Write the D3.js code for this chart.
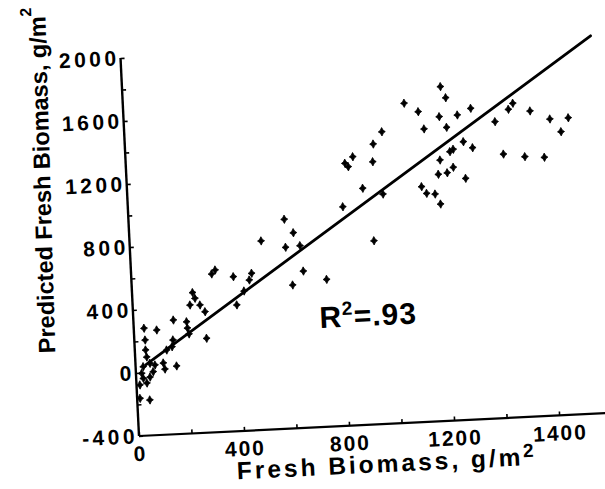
<!DOCTYPE html>
<html>
<head>
<meta charset="utf-8">
<script src="https://cdn.jsdelivr.net/npm/d3@7"></script>
<style>
  body { margin: 0; background: #fff; }
  svg { display: block; }
  text { font-family: "Liberation Sans", Arial, sans-serif; font-weight: bold; fill: #000; }
</style>
</head>
<body>
<svg id="chart" width="605" height="489"></svg>
<script>
// values
var freshBiomass = [1210,1228,1069,1121,1200,1269,1321,1140,1226,979,
    944,864,833,845,939,896,972,929,
    1411,1464,1482,1546,1620,1690,1660,1437,1518,1592,
    1287,1321,1234,1247,1195,1186,1220,1244,1289,1120,
    1138,1170,1189,817,
    592,624,592,647,500,655,612,742,
    320,306,388,458,448,426,396,
    230,238,256,274,218,275,
    152,202,204,209,39,87,147,142,121,41,41,44,
    106,111,156,55,74,22,27,13,11,48,66,29,40,53];
var predictedBiomass = [1720,1648,1626,1568,1530,1535,1573,1457,1460,1452,
    1377,1303,1264,1241,1265,1100,1057,764,
    1481,1555,1592,1538,1481,1483,1397,1273,1250,1240,
    1364,1323,1305,1319,1255,1165,1172,1205,1131,1092,
    1048,1041,976,989,
    928,840,750,756,798,594,509,534,
    628,604,580,596,554,486,400,
    492,455,411,367,414,198,
    324,309,269,231,281,266,198,155,136,206,143,98,
    55,16,32,57,45,-4,-36,-77,-162,-175,3,38,-67,-30];
var regressionX = [40, 1790];
var regressionY = [50, 1995];

var xTicks = [0,200,400,600,800,1000,1200,1400,1600];
var xTickLabels = {0: "0", 400: "400", 800: "800", 1200: "1200", 1600: "1400"};
var yTicks = [-400,-200,0,200,400,600,800,1000,1200,1400,1600,1800,2000];
var yTickLabels = {"-400": "-400", 0: "0", 400: "400", 800: "800", 1200: "1200", 1600: "1600", 2000: "2000"};

var ox = 139, oy = 436, tilt = -2.8;

var svg = d3.select("#chart");
var x = d3.scaleLinear().domain([0, 1600]).range([ox, 559.6]);
var y = d3.scaleLinear().domain([-400, 2000]).range([oy, 57.6]);

// the scan is slightly rotated, so the whole plot is too
var g = svg.append("g").attr("transform", "rotate(" + tilt + "," + ox + "," + oy + ")");

var xAxis = g.append("g")
    .attr("transform", "translate(0," + oy + ")")
    .call(d3.axisBottom(x).tickValues(xTicks).tickSize(-4).tickPadding(10)
        .tickFormat(function (d) { return xTickLabels[d] || ""; }));
xAxis.select(".domain").remove();
xAxis.selectAll("line").attr("stroke", "#000").attr("stroke-width", 1.6);
xAxis.selectAll("text").attr("font-family", null).attr("font-size", null)
    .style("font-size", "21px").style("letter-spacing", "2px");

var yAxis = g.append("g")
    .attr("transform", "translate(" + ox + ",0)")
    .call(d3.axisLeft(y).tickValues(yTicks).tickSize(-4).tickPadding(1)
        .tickFormat(function (d) { return yTickLabels[d] || ""; }));
yAxis.select(".domain").remove();
yAxis.selectAll("line").attr("stroke", "#000").attr("stroke-width", 1.6);
yAxis.selectAll("text").style("font-size", "21px").style("letter-spacing", "3.5px");

g.append("line")
    .attr("x1", x(0)).attr("y1", y(-400))
    .attr("x2", x(1800)).attr("y2", y(-400))
    .attr("stroke", "#000").attr("stroke-width", 2.2);
g.append("line")
    .attr("x1", x(0)).attr("y1", y(-400))
    .attr("x2", x(0)).attr("y2", y(2000))
    .attr("stroke", "#000").attr("stroke-width", 2.4);

g.append("line")
    .attr("x1", x(regressionX[0])).attr("y1", y(regressionY[0]))
    .attr("x2", x(regressionX[1])).attr("y2", y(regressionY[1]))
    .attr("stroke", "#000").attr("stroke-width", 2.8)
    .attr("stroke-linecap", "round");

var star = "M0,-4.2L1.5,-1.4L3.5,0L1.5,1.4L0,4.2L-1.5,1.4L-3.5,0L-1.5,-1.4Z";
g.append("g").selectAll("path")
    .data(d3.range(freshBiomass.length))
    .enter().append("path")
    .attr("d", star)
    .attr("transform", function (i) {
        return "translate(" + x(freshBiomass[i]) + "," + y(predictedBiomass[i]) + ")";
    })
    .attr("fill", "#000")
    .attr("stroke", "#000")
    .attr("stroke-width", 0.8);

var r2 = g.append("text")
    .attr("x", 325).attr("y", 337)
    .style("font-size", "30px").style("letter-spacing", "1px");
r2.append("tspan").text("R");
r2.append("tspan").attr("dy", -12).style("font-size", "19px").text("2");
r2.append("tspan").attr("dy", 12).text("=.93");

var xt = g.append("text")
    .attr("x", 235).attr("y", 484)
    .style("font-size", "24.5px").style("letter-spacing", "3px");
xt.append("tspan").text("Fresh Biomass, g/m");
xt.append("tspan").attr("dy", -8).style("font-size", "19px").text("2");

var yt = g.append("text")
    .attr("transform", "translate(59.5,349) rotate(-88.9)")
    .style("font-size", "23.5px");
yt.append("tspan").text("Predicted Fresh Biomass, g/m");
yt.append("tspan").attr("dy", -14).style("font-size", "16px").text("2");
</script>
</body>
</html>
